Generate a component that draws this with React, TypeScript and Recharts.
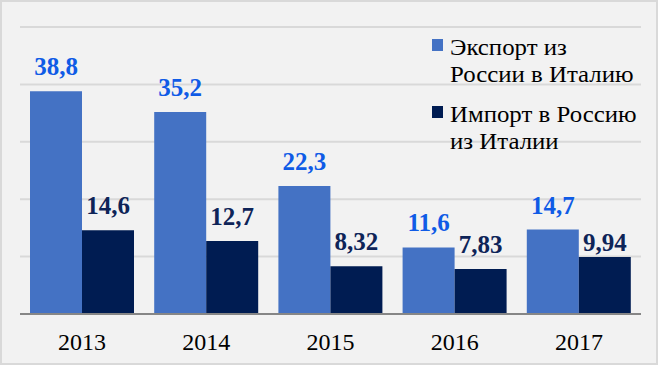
import React from "react";
import { BarChart, Bar, XAxis, YAxis, CartesianGrid, Legend, LabelList } from "recharts";

const years = ["2013", "2014", "2015", "2016", "2017"];
const exportValues = [38.8, 35.2, 22.3, 11.6, 14.7];
const importValues = [14.6, 12.7, 8.32, 7.83, 9.94];
const exportLabels = ["38,8", "35,2", "22,3", "11,6", "14,7"];
const importLabels = ["14,6", "12,7", "8,32", "7,83", "9,94"];
const yTicks = [0, 10, 20, 30, 40, 50];
const legendItems = [
  { lines: ["Экспорт из", "России в Италию"], color: "#4472c4" },
  { lines: ["Импорт в Россию", "из Италии"], color: "#001c52" },
];

const data = years.map((year, i) => ({
  year,
  exp: exportValues[i],
  imp: importValues[i],
  expLabel: exportLabels[i],
  impLabel: importLabels[i],
}));

const FONT = "Liberation Serif";

// the 2017 import label sits closer to its bar in the original
const makeLabel = (color: string, lowered: number[]) => (props: any) => {
  const { x, y, width, value, index } = props;
  const gap = lowered.includes(index) ? 6 : 16;
  return (
    <text
      x={x + width / 2}
      y={y - gap}
      textAnchor="middle"
      fill={color}
      style={{ fontFamily: FONT, fontSize: 25, fontWeight: "bold" }}
    >
      {value}
    </text>
  );
};

const renderLegend = () => (
  <div style={{ fontFamily: FONT, fontSize: 23, lineHeight: "27.5px", color: "#000" }}>
    {legendItems.map((item, i) => (
      <div key={i} style={{ position: "relative", paddingLeft: 18, marginBottom: 12 }}>
        <span
          style={{
            position: "absolute",
            left: 0,
            top: 5.5,
            width: 11,
            height: 12,
            background: item.color,
          }}
        />
        {item.lines.map((l, j) => (
          <div
            key={j}
            style={{ whiteSpace: "nowrap", transform: "scaleX(1.08)", transformOrigin: "left center" }}
          >
            {l}
          </div>
        ))}
      </div>
    ))}
  </div>
);

export default function App() {
  return (
    <div
      style={{
        position: "absolute",
        left: 0,
        top: 0,
        width: 658,
        height: 365,
        boxSizing: "border-box",
        border: "2px solid #d9d9d9",
        background: "#f2f2f2",
        fontFamily: FONT,
      }}
    >
      <BarChart
        width={654}
        height={361}
        data={data}
        margin={{ top: 25, right: 15, bottom: 9, left: 18 }}
        barCategoryGap={10}
        barGap={0}
        style={{ fontFamily: FONT }}
      >
        <CartesianGrid vertical={false} stroke="#d9d9d9" strokeWidth={2} />
        <XAxis
          dataKey="year"
          axisLine={{ stroke: "#868686", strokeWidth: 2 }}
          tickLine={false}
          tickSize={0}
          tickMargin={19}
          height={40}
          tick={{ fill: "#000", fontSize: 24, style: { fontFamily: FONT } }}
        />
        <YAxis hide domain={[0, 50]} ticks={yTicks} />
        <Legend
          layout="horizontal"
          align="center"
          verticalAlign="middle"
          wrapperStyle={{ left: 429.7, top: 31.5, width: 220 }}
          content={renderLegend}
        />
        <Bar dataKey="exp" name="Экспорт из России в Италию" fill="#4472c4" isAnimationActive={false}>
          <LabelList dataKey="expLabel" content={makeLabel("#0f5be6", [])} />
        </Bar>
        <Bar dataKey="imp" name="Импорт в Россию из Италии" fill="#001c52" isAnimationActive={false}>
          <LabelList dataKey="impLabel" content={makeLabel("#0e2458", [4])} />
        </Bar>
      </BarChart>
    </div>
  );
}
